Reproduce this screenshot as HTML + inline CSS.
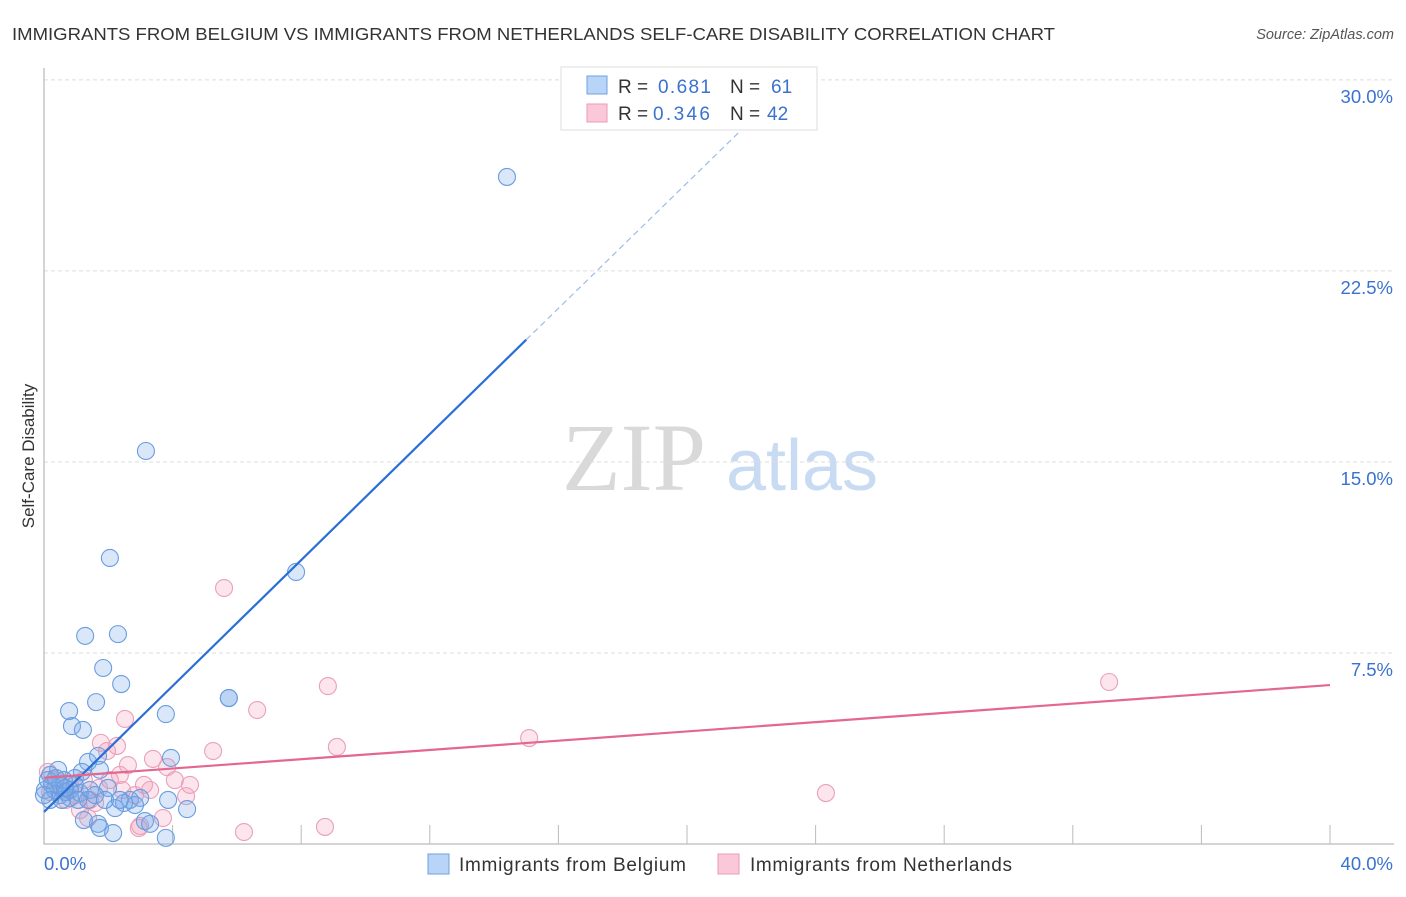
<!DOCTYPE html>
<html><head><meta charset="utf-8"><style>
body{margin:0;background:#fff;font-family:"Liberation Sans",sans-serif}
</style></head><body>
<svg width="1406" height="892" xmlns="http://www.w3.org/2000/svg" style="font-family:'Liberation Sans',sans-serif">
<text x="12" y="40" font-size="17.5" fill="#333" textLength="1043" lengthAdjust="spacingAndGlyphs">IMMIGRANTS FROM BELGIUM VS IMMIGRANTS FROM NETHERLANDS SELF-CARE DISABILITY CORRELATION CHART</text>
<text x="1394" y="39" font-size="14.5" fill="#555" font-style="italic" text-anchor="end">Source: ZipAtlas.com</text>
<g>
<text x="634" y="490" font-size="96" fill="#d9d9d9" font-family="'Liberation Serif',serif" text-anchor="middle">ZIP</text>
<text x="802" y="490" font-size="72" fill="#c8dbf2" text-anchor="middle">atlas</text>
</g>
<g id="grid"></g>
<g id="axes"></g>
<g id="pts"></g>
<g id="trends"></g>
<text transform="translate(34,456) rotate(-90)" font-size="17" fill="#333" text-anchor="middle">Self-Care Disability</text>
<g>
<rect x="561" y="67" width="256" height="63" fill="#fff" stroke="#ddd"/>
<rect x="587" y="76" width="20" height="18" fill="#b8d4f6" stroke="#6ea0e0"/>
<rect x="587" y="104" width="20" height="18" fill="#fac8d8" stroke="#ee9ab6"/>
<g font-size="19">
<text x="618" y="93" fill="#333">R =</text>
<text x="658" y="93" fill="#3a72d0" textLength="53">0.681</text>
<text x="730" y="93" fill="#333">N =</text>
<text x="771" y="93" fill="#3a72d0">61</text>
<text x="618" y="120" fill="#333">R =</text>
<text x="653" y="120" fill="#3a72d0" textLength="57">0.346</text>
<text x="730" y="120" fill="#333">N =</text>
<text x="767" y="120" fill="#3a72d0">42</text>
</g>
</g>
<g>
<rect x="428" y="854" width="21" height="20" fill="#b8d4f6" stroke="#6ea0e0"/>
<text x="459" y="871" font-size="19" fill="#333" textLength="227">Immigrants from Belgium</text>
<rect x="718" y="854" width="21" height="20" fill="#fac8d8" stroke="#ee9ab6"/>
<text x="750" y="871" font-size="19" fill="#333" textLength="262">Immigrants from Netherlands</text>
</g>
</svg>
<script>
const blueX=[14.4,3.17,2.05,7.84,1.28,2.30,1.84,2.40,1.62,0.78,3.79,5.75,5.75,0.87,1.21,1.68,1.37,3.95,1.18,0.44,0.19,0.62,0.96,0.34,0.50,0.81,1.12,1.43,0.03,0.19,1.99,2.67,2.99,2.83,2.49,2.21,3.86,4.45,1.24,1.68,1.74,2.15,3.14,3.30,3.79,0.50,0.68,0.96,0.12,0.25,0.56,0.81,1.06,1.37,1.59,1.90,0.0,0.37,0.65,1.74,2.36];
const blueY=[26.19,15.43,11.23,10.68,8.17,8.24,6.91,6.28,5.57,5.22,5.10,5.73,5.73,4.63,4.48,3.46,3.22,3.38,2.83,2.91,2.71,2.51,2.32,2.12,1.92,1.81,2.00,2.12,2.12,1.73,2.20,1.73,1.81,1.53,1.61,1.41,1.73,1.37,0.94,0.79,0.63,0.43,0.90,0.79,0.24,2.32,2.04,2.59,2.51,2.32,1.73,2.12,1.73,1.73,1.92,1.73,1.92,2.59,2.20,2.91,1.73];
const pinkX=[33.13,5.60,8.83,6.63,2.52,9.11,5.26,15.09,24.32,3.39,2.27,1.77,1.96,2.61,3.83,4.07,4.54,4.42,3.11,2.43,1.71,1.43,1.59,1.12,1.37,2.99,3.70,2.95,6.22,8.74,0.12,0.34,0.56,0.81,1.00,1.24,2.05,2.36,0.19,0.68,2.83,3.30];
const pinkY=[6.36,10.05,6.20,5.26,4.91,3.81,3.65,4.16,2.00,3.34,3.85,3.97,3.65,3.10,3.02,2.51,2.32,1.88,2.32,2.12,2.20,1.73,1.61,1.33,1.02,0.71,1.02,0.63,0.47,0.67,2.83,2.51,2.12,2.32,1.92,2.51,2.51,2.71,2.04,1.73,1.92,2.12];
const yTicks=[7.5,15,22.5,30];
const yTickLabels=["7.5%","15.0%","22.5%","30.0%"];
const xTicks=[4,8,12,16,20,24,28,32,36,40];
const blueTrend=[[0,1.26],[15.0,19.8]];
const blueTrendExt=[[15.0,19.8],[22.8,29.4]];
const pinkTrend=[[0,2.6],[40,6.24]];
const X=v=>44+v*32.15, Y=v=>844-v*25.47;
const NS="http://www.w3.org/2000/svg";
function mk(t,a,p){const e=document.createElementNS(NS,t);for(const k in a)e.setAttribute(k,a[k]);p.appendChild(e);return e;}
const grid=document.getElementById('grid'),axes=document.getElementById('axes'),pts=document.getElementById('pts'),tr=document.getElementById('trends');
yTicks.forEach((v,i)=>{
 const l=mk('line',{x1:44,x2:1394,y1:Y(v),y2:Y(v),stroke:'#ddd','stroke-dasharray':'4,3'},grid);
 
 
 const t=mk('text',{x:1393,y:Y(v)+23,'font-size':18.5,fill:'#3a72d0','text-anchor':'end'},axes);
 t.textContent=yTickLabels[i];
 
 
});
const ax=mk('path',{d:`M44 68 V${Y(0)} H1394`,stroke:'#aaa',fill:'none'},axes);


xTicks.forEach(v=>{const l=mk('line',{x1:X(v),x2:X(v),y1:Y(0),y2:Y(0)-19,stroke:'#bbb'},axes);
 
 });
const x0=mk('text',{x:44,y:870,'font-size':18.5,fill:'#3a72d0'},axes);x0.textContent='0.0%';


const x1=mk('text',{x:1393,y:870,'font-size':18.5,fill:'#3a72d0','text-anchor':'end'},axes);x1.textContent='40.0%';


pinkX.forEach((v,i)=>{const c=mk('circle',{cx:X(v),cy:Y(pinkY[i]),r:8.5,fill:'rgba(246,160,188,0.28)',stroke:'#eba0ba','stroke-width':1.1},pts);
 
 });
blueX.forEach((v,i)=>{const c=mk('circle',{cx:X(v),cy:Y(blueY[i]),r:8.5,fill:'rgba(120,170,235,0.28)',stroke:'#6a9ddf','stroke-width':1.1},pts);
 
 });
const bl=mk('line',{x1:X(blueTrend[0][0]),y1:Y(blueTrend[0][1]),x2:X(blueTrend[1][0]),y2:Y(blueTrend[1][1]),stroke:'#2a6fd6','stroke-width':2.2},tr);


const be=mk('line',{x1:X(blueTrendExt[0][0]),y1:Y(blueTrendExt[0][1]),x2:X(blueTrendExt[1][0]),y2:Y(blueTrendExt[1][1]),stroke:'#9bbce8','stroke-width':1.2,'stroke-dasharray':'6,4'},tr);


const pl=mk('line',{x1:X(pinkTrend[0][0]),y1:Y(pinkTrend[0][1]),x2:X(pinkTrend[1][0]),y2:Y(pinkTrend[1][1]),stroke:'#e4678f','stroke-width':2.2},tr);


</script>
</body></html>
